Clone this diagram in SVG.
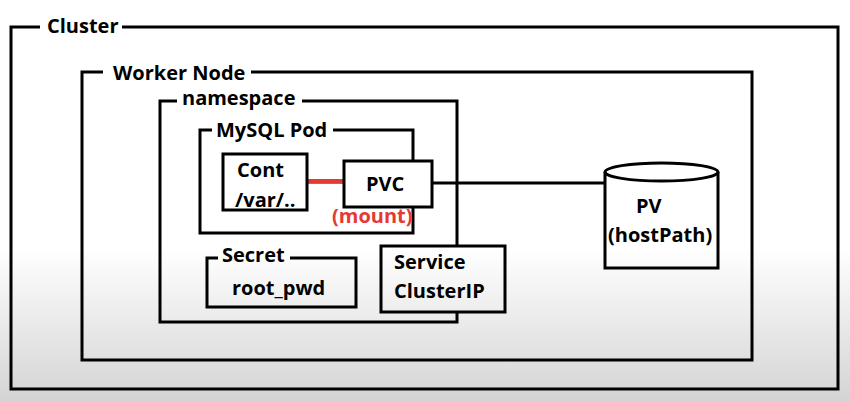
<svg xmlns="http://www.w3.org/2000/svg" width="850" height="401" viewBox="0 0 850 401">
<defs>
<linearGradient id="bg" gradientUnits="userSpaceOnUse" x1="0" y1="0" x2="0" y2="401">
<stop offset="0" stop-color="#ffffff"/>
<stop offset="0.62" stop-color="#ffffff"/>
<stop offset="1" stop-color="#d4d4d4"/>
</linearGradient>
<style>
.b{fill:none;stroke:#000;stroke-width:3}
.n{fill:url(#bg);stroke:#000;stroke-width:3}
text{font-family:"Open Sans","Noto Sans",sans-serif;font-weight:700;font-size:20px;fill:#000}
.red{fill:#e53935}
</style>
</defs>
<rect width="850" height="401" fill="url(#bg)"/>
<g id="cluster">
<path class="b" d="M40,27 H11 V389 H838 V27 H122"/>
<text x="47" y="33">Cluster</text>
</g>
<g id="worker-node">
<path class="b" d="M103,72 H82 V360 H752 V72 H251"/>
<text x="113" y="80">Worker Node</text>
</g>
<g id="namespace">
<path class="b" d="M177,101 H160 V322 H457 V101 H302"/>
<text x="182" y="105">namespace</text>
</g>
<g id="mysql-pod">
<path class="b" d="M212,130 H200 V233 H413 V130 H333"/>
<text x="216" y="137">MySQL Pod</text>
</g>
<g id="connectors">
<line x1="432" y1="183" x2="605" y2="183" stroke="#000" stroke-width="3"/>
<line x1="307" y1="182" x2="345" y2="182" stroke="#000" stroke-width="3"/>
<line x1="303" y1="181" x2="344" y2="181" stroke="#e53935" stroke-width="4"/>
</g>
<g id="cont">
<rect class="n" x="223" y="154" width="84" height="56"/>
<text x="237" y="177">Cont</text>
<text x="235" y="207">/var/..</text>
</g>
<g id="pvc">
<rect class="n" x="344" y="161" width="88" height="46"/>
<text x="366" y="191">PVC</text>
</g>
<text class="red" x="332" y="223">(mount)</text>
<g id="secret">
<path class="b" d="M218,258 H207 V307 H356 V258 H290"/>
<text x="222" y="262">Secret</text>
<text x="232" y="295">root_pwd</text>
</g>
<g id="service">
<rect class="n" x="381" y="246" width="124" height="66"/>
<text x="394" y="269">Service</text>
<text x="394" y="298">ClusterIP</text>
</g>
<g id="pv">
<path class="n" d="M605,172 V268 H718 V172"/>
<ellipse cx="661.5" cy="172" rx="56.5" ry="9" class="n"/>
<text x="636" y="213">PV</text>
<text x="608" y="242">(hostPath)</text>
</g>
</svg>
